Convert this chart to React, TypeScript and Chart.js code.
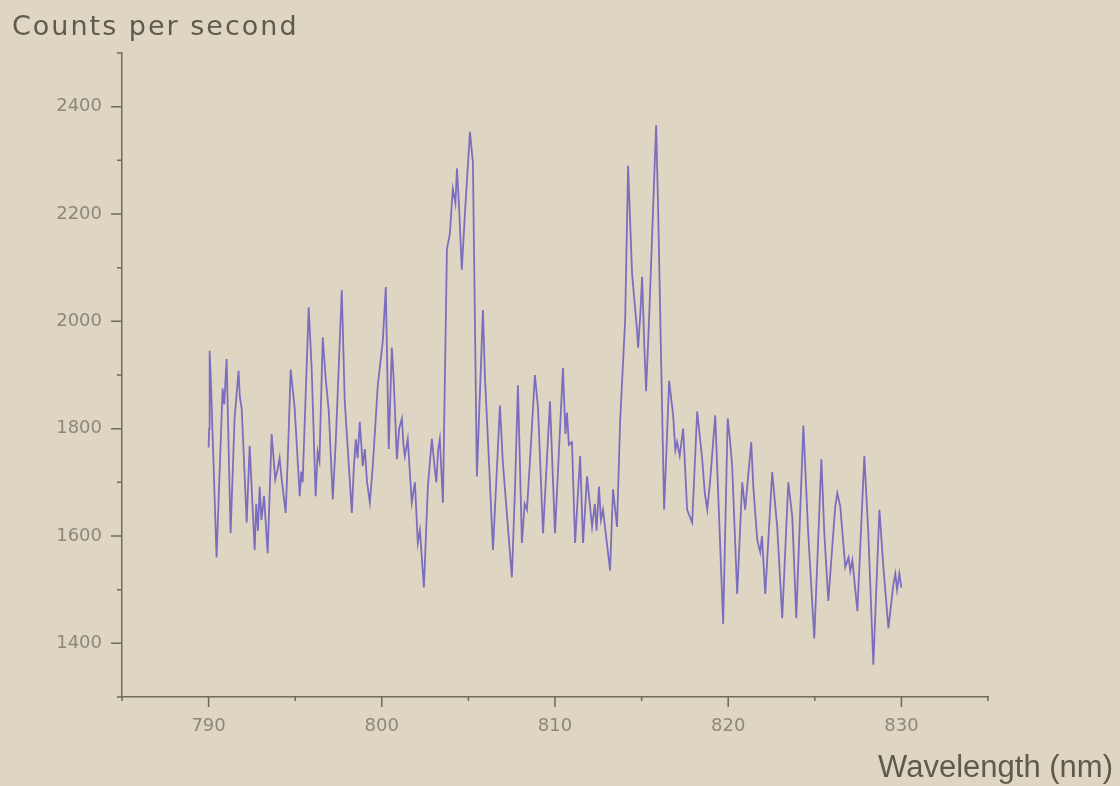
import React, { useEffect, useRef } from "react";
import { Chart, registerables } from "chart.js";

Chart.register(...registerables);

const wavelength: number[] = [
  790.00, 790.03, 790.06, 790.12, 790.46, 790.81, 790.90, 791.04, 791.27, 791.50,
  791.73, 791.80, 791.91, 792.20, 792.37, 792.66, 792.75, 792.85, 792.95, 793.05,
  793.12, 793.20, 793.41, 793.64, 793.85, 793.99, 794.10, 794.22, 794.45, 794.57,
  794.74, 794.97, 795.26, 795.35, 795.43, 795.78, 795.95, 796.18, 796.30, 796.40,
  796.59, 796.76, 796.94, 797.17, 797.34, 797.69, 797.86, 798.27, 798.38, 798.50,
  798.60, 798.73, 798.90, 799.02, 799.15, 799.31, 799.48, 799.77, 800.06, 800.23,
  800.40, 800.58, 800.69, 800.87, 801.00, 801.16, 801.25, 801.33, 801.50, 801.73,
  801.91, 802.08, 802.20, 802.43, 802.66, 802.89, 803.06, 803.15, 803.25, 803.35,
  803.53, 803.76, 803.93, 804.10, 804.25, 804.34, 804.45, 804.62, 804.80, 804.97,
  805.09, 805.26, 805.49, 805.84, 805.95, 806.18, 806.42, 806.82, 806.99, 807.51,
  807.69, 807.86, 808.09, 808.25, 808.38, 808.55, 808.84, 809.02, 809.31, 809.71,
  810.00, 810.46, 810.60, 810.69, 810.80, 810.98, 811.16, 811.45, 811.62, 811.85,
  812.14, 812.30, 812.40, 812.54, 812.65, 812.77, 813.18, 813.35, 813.58, 813.76,
  814.05, 814.22, 814.45, 814.62, 814.72, 814.80, 814.92, 815.03, 815.15, 815.26,
  815.43, 815.84, 815.95, 816.30, 816.59, 816.82, 816.95, 817.05, 817.20, 817.40,
  817.63, 817.92, 818.21, 818.50, 818.65, 818.79, 818.95, 819.25, 819.42, 819.71,
  819.97, 820.10, 820.23, 820.52, 820.81, 820.98, 821.33, 821.45, 821.68, 821.85,
  821.95, 822.14, 822.54, 822.83, 823.12, 823.47, 823.70, 823.93, 824.34, 824.62,
  824.97, 825.38, 825.55, 825.78, 826.18, 826.30, 826.47, 826.76, 826.95, 827.05,
  827.17, 827.46, 827.86, 828.09, 828.38, 828.73, 828.96, 829.25, 829.54, 829.65,
  829.75, 829.88, 830.00,
];

const counts: number[] = [
  1765, 1800, 1945, 1900, 1560, 1875, 1845, 1930, 1605, 1820,
  1908, 1860, 1838, 1625, 1768, 1574, 1660, 1610, 1692, 1630,
  1649, 1675, 1568, 1790, 1705, 1725, 1745, 1705, 1643, 1743,
  1910, 1838, 1674, 1720, 1700, 2026, 1913, 1674, 1757, 1740,
  1970, 1894, 1832, 1668, 1775, 2058, 1851, 1643, 1725, 1780,
  1745, 1813, 1730, 1762, 1700, 1662, 1730, 1881, 1964, 2064,
  1762, 1951, 1889, 1743, 1800, 1819, 1770, 1749, 1781, 1662,
  1700, 1587, 1611, 1504, 1692, 1781, 1725, 1700, 1760, 1781,
  1662, 2134, 2164, 2247, 2220, 2285, 2221, 2096, 2202, 2290,
  2353, 2296, 1711, 2021, 1900, 1743, 1574, 1843, 1737, 1523,
  1687, 1881, 1587, 1660, 1649, 1737, 1900, 1838, 1605, 1851,
  1605, 1913, 1790, 1830, 1770, 1775, 1587, 1749, 1587, 1711,
  1617, 1660, 1610, 1692, 1630, 1649, 1536, 1687, 1617, 1813,
  2002, 2290, 2089, 2026, 1990, 1951, 2010, 2083, 1960, 1870,
  2002, 2366, 2215, 1649, 1889, 1825, 1760, 1775, 1750, 1800,
  1649, 1625, 1832, 1743, 1680, 1649, 1700, 1825, 1681, 1436,
  1819, 1780, 1730, 1492, 1700, 1649, 1775, 1692, 1592, 1570,
  1600, 1492, 1719, 1617, 1447, 1700, 1636, 1447, 1806, 1605,
  1409, 1743, 1605, 1479, 1655, 1680, 1655, 1542, 1560, 1535,
  1555, 1460, 1749, 1605, 1360, 1649, 1542, 1428, 1511, 1530,
  1500, 1530, 1504,
];

const xMajorTicks: number[] = [790, 800, 810, 820, 830];
const xMinorTicks: number[] = [785, 795, 805, 815, 825, 835];
const yMajorTicks: number[] = [1400, 1600, 1800, 2000, 2200, 2400];
const yMinorTicks: number[] = [1300, 1500, 1700, 1900, 2100, 2300, 2500];

const BG = "#ded6c2";
const AXIS = "#6f6a5c";
const LABEL = "#8d877b";
const TITLE = "#5f5a4d";

export default function App() {
  const ref = useRef<HTMLCanvasElement | null>(null);

  useEffect(() => {
    document.body.style.margin = "0";
    document.body.style.background = BG;
    const canvas = ref.current;
    if (!canvas) return;

    const tickPlugin = {
      id: "customTicks",
      afterDraw(chart: any) {
        const ctx = chart.ctx;
        const xs = chart.scales.x;
        const ys = chart.scales.y;
        const area = chart.chartArea;
        ctx.save();
        ctx.strokeStyle = AXIS;
        ctx.lineWidth = 1.5;
        ctx.beginPath();
        xMajorTicks.forEach((v) => {
          const p = xs.getPixelForValue(v);
          ctx.moveTo(p, area.bottom);
          ctx.lineTo(p, area.bottom + 10);
        });
        xMinorTicks.forEach((v) => {
          const p = xs.getPixelForValue(v);
          ctx.moveTo(p, area.bottom);
          ctx.lineTo(p, area.bottom + 4);
        });
        yMajorTicks.forEach((v) => {
          const p = ys.getPixelForValue(v);
          ctx.moveTo(area.left, p);
          ctx.lineTo(area.left - 11, p);
        });
        yMinorTicks.forEach((v) => {
          const p = ys.getPixelForValue(v);
          ctx.moveTo(area.left, p);
          ctx.lineTo(area.left - 5, p);
        });
        ctx.stroke();

        ctx.fillStyle = TITLE;
        ctx.font = "27px 'DejaVu Sans'";
        (ctx as any).letterSpacing = "2px";
        ctx.textAlign = "left";
        ctx.textBaseline = "alphabetic";
        ctx.fillText("Counts per second", 12, 35);
        (ctx as any).letterSpacing = "0px";
        ctx.font = "31px 'Liberation Sans'";
        ctx.textAlign = "right";
        ctx.fillText("Wavelength (nm)", 1113, 777);
        ctx.restore();
      },
    };

    const chart = new Chart(canvas, {
      type: "line",
      data: {
        datasets: [
          {
            data: wavelength.map((x, i) => ({ x, y: counts[i] })),
            borderColor: "rgba(82,66,190,0.7)",
            borderWidth: 1.8,
            pointRadius: 0,
            tension: 0,
            fill: false,
          },
        ],
      },
      options: {
        animation: false,
        responsive: false,
        devicePixelRatio: 1,
        layout: { padding: { left: 0, top: 53, right: 132, bottom: 0 } },
        plugins: {
          legend: { display: false },
          tooltip: { enabled: false },
          title: { display: false },
        },
        scales: {
          x: {
            type: "linear",
            min: 785,
            max: 835,
            afterFit: (s: any) => {
              s.height = 89;
            },
            afterBuildTicks: (s: any) => {
              s.ticks = xMajorTicks.map((v) => ({ value: v }));
            },
            grid: { display: false, drawTicks: false },
            border: { display: true, color: AXIS, width: 1.5 },
            ticks: {
              padding: 19,
              color: LABEL,
              font: { family: "'DejaVu Sans'", size: 18 },
              callback: (v: any) => String(v),
              maxRotation: 0,
            },
          },
          y: {
            type: "linear",
            min: 1300,
            max: 2500,
            afterFit: (s: any) => {
              s.width = 122;
            },
            afterBuildTicks: (s: any) => {
              s.ticks = yMajorTicks.map((v) => ({ value: v }));
            },
            grid: { display: false, drawTicks: false },
            border: { display: true, color: AXIS, width: 1.5 },
            ticks: {
              padding: 20,
              color: LABEL,
              font: { family: "'DejaVu Sans'", size: 18 },
              callback: (v: any) => String(v),
            },
          },
        },
      },
      plugins: [tickPlugin],
    });

    return () => chart.destroy();
  }, []);

  return (
    <div style={{ position: "fixed", left: 0, top: 0, width: 1120, height: 786, background: BG }}>
      <canvas ref={ref} width={1120} height={786} style={{ display: "block" }} />
    </div>
  );
}
